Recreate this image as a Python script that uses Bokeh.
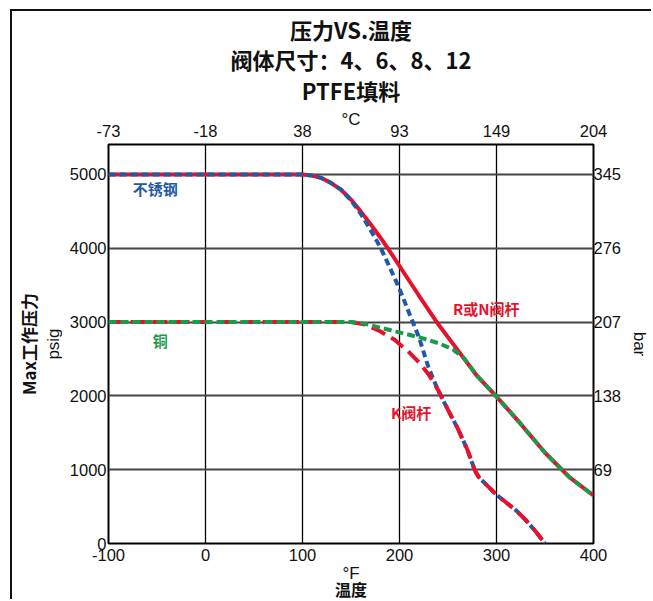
import math
from bokeh.plotting import figure
from bokeh.models import LinearAxis, FixedTicker, Label, Range1d, Title
from bokeh.embed import file_html
from bokeh.resources import INLINE

# ---- data (°F, psig) ----
rn_f = [-100, 100, 110, 120, 130, 140, 150, 160, 170, 180, 190, 200, 220, 240, 260, 280, 300, 325, 350, 375, 400]
rn_p = [5000, 5000, 4985, 4950, 4880, 4790, 4660, 4500, 4330, 4150, 3960, 3760, 3360, 2970, 2620, 2270, 1990, 1620, 1230, 900, 650]

ss_f = [-100, 100, 110, 120, 130, 140, 150, 160, 170, 180, 190, 200, 210, 220, 230, 240, 250, 260, 270, 278, 282, 290, 300, 310, 320, 330, 340, 350]
ss_p = [5000, 5000, 4985, 4950, 4880, 4790, 4650, 4470, 4250, 4020, 3740, 3450, 3120, 2795, 2380, 2070, 1810, 1560, 1270, 980, 895, 790, 660, 555, 450, 320, 170, 0]

k_f = [-100, 150, 165, 180, 195, 210, 220, 230, 240, 250, 260, 270, 278, 282, 290, 300, 310, 320, 330, 340, 350]
k_p = [3000, 3000, 2965, 2875, 2760, 2590, 2455, 2290, 2075, 1810, 1560, 1270, 980, 895, 790, 660, 555, 450, 320, 170, 0]

br_f = [-100, 150, 165, 180, 200, 220, 240, 255, 265, 270, 280, 300, 325, 350, 375, 400]
br_p = [3000, 3000, 2975, 2925, 2860, 2795, 2715, 2630, 2530, 2450, 2270, 1990, 1620, 1230, 900, 650]

f_ticks = [-100, 0, 100, 200, 300, 400]
f_labels = ["-100", "0", "100", "200", "300", "400"]
c_labels = ["-73", "-18", "38", "93", "149", "204"]
psi_ticks = [0, 1000, 2000, 3000, 4000, 5000]
bar_ticks = [1000, 2000, 3000, 4000, 5000]
bar_labels = ["69", "138", "207", "276", "345"]

title_lines = ["压力VS.温度", "阀体尺寸：4、6、8、12", "PTFE填料"]

RED = "#e8112d"
BLUE = "#1f5aa6"
GREEN = "#1a9a4a"

TICK_FONT = "Liberation Sans"
CJK = "Noto Sans CJK SC"

p = figure(width=641, height=590,
           x_range=Range1d(-100, 400), y_range=Range1d(0, 5406),
           output_backend="svg", toolbar_location=None,
           min_border_left=96, min_border_right=60,
           min_border_top=133, min_border_bottom=58,
           background_fill_color="white", border_fill_color="white",
           styles={"border-left": "2px solid #111111", "border-top": "2px solid #111111",
                   "margin-left": "10px", "margin-top": "9px"})
p.title.visible = False

p.outline_line_color = "black"
p.outline_line_width = 2
p.outline_line_alpha = 1.0

# grid
p.xgrid.ticker = FixedTicker(ticks=[0, 100, 200, 300])
p.xgrid.grid_line_color = "black"
p.xgrid.grid_line_width = 1.3
p.ygrid.ticker = FixedTicker(ticks=bar_ticks)
p.ygrid.grid_line_color = "#454545"
p.ygrid.grid_line_width = 2

def style_axis(ax, label=None, standoff=5, label_standoff=2):
    ax.axis_line_color = None
    ax.major_tick_line_color = None
    ax.minor_tick_line_color = None
    ax.major_tick_out = 0
    ax.major_tick_in = 0
    ax.major_label_text_font = TICK_FONT
    ax.major_label_text_font_size = "16.5px"
    ax.major_label_text_color = "#111111"
    ax.major_label_standoff = standoff
    if label is not None:
        ax.axis_label = label
        ax.axis_label_text_font = TICK_FONT
        ax.axis_label_text_font_size = "17px"
        ax.axis_label_text_font_style = "normal"
        ax.axis_label_text_color = "#111111"
        ax.axis_label_standoff = label_standoff

p.xaxis.ticker = FixedTicker(ticks=f_ticks)
p.xaxis.major_label_overrides = {t: l for t, l in zip(f_ticks, f_labels)}
p.yaxis.ticker = FixedTicker(ticks=psi_ticks)
style_axis(p.xaxis[0], "°F", 5, 0)
style_axis(p.yaxis[0], "psig", 2, 4)

top = LinearAxis(ticker=FixedTicker(ticks=f_ticks),
                 major_label_overrides={t: l for t, l in zip(f_ticks, c_labels)})
style_axis(top, "°C", 8, -7)
p.add_layout(top, "above")

right = LinearAxis(ticker=FixedTicker(ticks=bar_ticks),
                   major_label_overrides={t: l for t, l in zip(bar_ticks, bar_labels)})
style_axis(right, "bar", 0, 6)
p.add_layout(right, "right")

def title(text, size, place, standoff):
    p.add_layout(Title(text=text, align="center", text_font=CJK,
                       text_font_size=size, text_font_style="bold",
                       text_color="#111111", standoff=standoff), place)

title(title_lines[2], "22px", "above", 1)
title(title_lines[1], "22px", "above", -6)
title(title_lines[0], "22px", "above", -2)
title("温度", "16px", "below", -22)
title("Max工作压力", "17px", "left", 0)

# curves
p.line(rn_f, rn_p, line_color=RED, line_width=4)
p.line(ss_f, ss_p, line_color=BLUE, line_width=4, line_dash="7 4")
p.line(k_f, k_p, line_color=RED, line_width=4, line_dash="15 7")
p.line(br_f, br_p, line_color=GREEN, line_width=4, line_dash="8 4")

def lab(x, y, text, color):
    p.add_layout(Label(x=x, y=y, text=text, text_font=CJK,
                       text_font_size="15px", text_color=color,
                       text_font_style="bold",
                       text_align="center", text_baseline="middle"))

# in-plot series labels
lab(-51.7, 4811, "不锈钢", BLUE)
lab(-46.6, 2757, "铜", GREEN)
lab(289.5, 3189, "R或N阀杆", RED)
lab(212, 1770, "K阀杆", RED)

open("out.html", "w", encoding="utf-8").write(file_html(p, INLINE))
